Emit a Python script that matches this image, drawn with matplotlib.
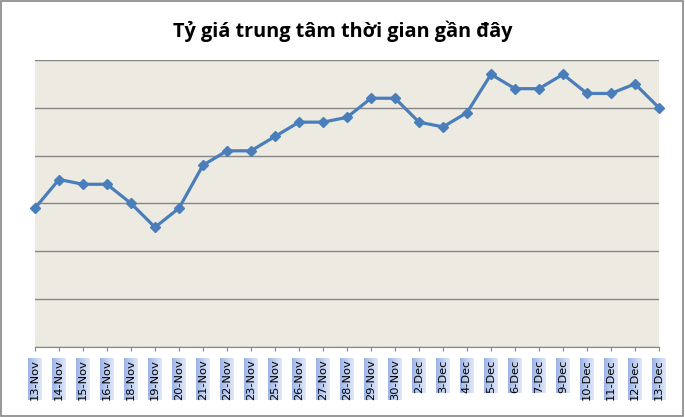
import numpy as np
import matplotlib
matplotlib.use("Agg")
import matplotlib.pyplot as plt
from matplotlib.patches import Rectangle

dates = ["13-Nov", "14-Nov", "15-Nov", "16-Nov", "18-Nov", "19-Nov", "20-Nov",
         "21-Nov", "22-Nov", "23-Nov", "25-Nov", "26-Nov", "27-Nov", "28-Nov",
         "29-Nov", "30-Nov", "2-Dec", "3-Dec", "4-Dec", "5-Dec", "6-Dec",
         "7-Dec", "9-Dec", "10-Dec", "11-Dec", "12-Dec", "13-Dec"]
rate = [22129, 22135, 22134, 22134, 22130, 22125, 22129, 22138, 22141, 22141,
        22144, 22147, 22147, 22148, 22152, 22152, 22147, 22146, 22149, 22157,
        22154, 22154, 22157, 22153, 22153, 22155, 22150]
y_ticks = [22100, 22110, 22120, 22130, 22140, 22150, 22160]

GRID = "#868686"
fig = plt.figure(figsize=(6.85, 4.17), dpi=100)
fig.patches.append(Rectangle((0.001, 0.002), 0.996, 0.996, transform=fig.transFigure,
                             fill=False, edgecolor=GRID, lw=1.2))
ax = fig.add_axes([35/685, 1 - 346.8/417, 624/685, 286.8/417])
ax.set_facecolor("#EDEBE1")
x = np.arange(len(dates))
ax.plot(x, rate, "-D", color="#4A7EBB", lw=2.3, ms=5.5, clip_on=False, zorder=3)
ax.set_xlim(0, len(dates) - 1)
ax.set_ylim(y_ticks[0], y_ticks[-1])
ax.set_yticks(y_ticks)
ax.yaxis.grid(True, color=GRID, lw=1.0)
ax.set_axisbelow(True)
ax.tick_params(axis="y", left=False, labelleft=False)
for s in ["left", "right", "top"]:
    ax.spines[s].set_visible(False)
ax.spines["bottom"].set_color(GRID)
ax.set_xticks(x)
ax.set_xticklabels(dates, rotation=90, fontsize=8.2, family="DejaVu Sans")
ax.tick_params(axis="x", length=3, color=GRID, pad=6)

fig.text(343/685, 1 - 31/417, "Tỷ giá trung tâm thời gian gần đây",
         ha="center", va="center", fontsize=14.3, fontweight="bold", family="Open Sans")

# gradient boxes behind the date labels
fig.canvas.draw()
r = fig.canvas.get_renderer()
for lab in ax.get_xticklabels():
    bb = lab.get_window_extent(r)
    x0, x1 = int(round(bb.x0)) - 2, int(round(bb.x1)) + 2
    y0, y1 = int(round(bb.y0)), int(round(bb.y1)) + 1
    w, h = x1 - x0, y1 - y0
    t = np.linspace(0, 1, w)
    c0 = np.array([0x9D, 0xB4, 0xE8]) / 255
    c1 = np.array([0xDF, 0xE8, 0xF8]) / 255
    row = c0[None, :] * (1 - t[:, None]) + c1[None, :] * t[:, None]
    img = np.repeat(row[None, :, :], h, axis=0)
    fig.figimage(img, xo=x0, yo=y0, zorder=-1, origin="lower")

fig.savefig("out.png", dpi=100)
